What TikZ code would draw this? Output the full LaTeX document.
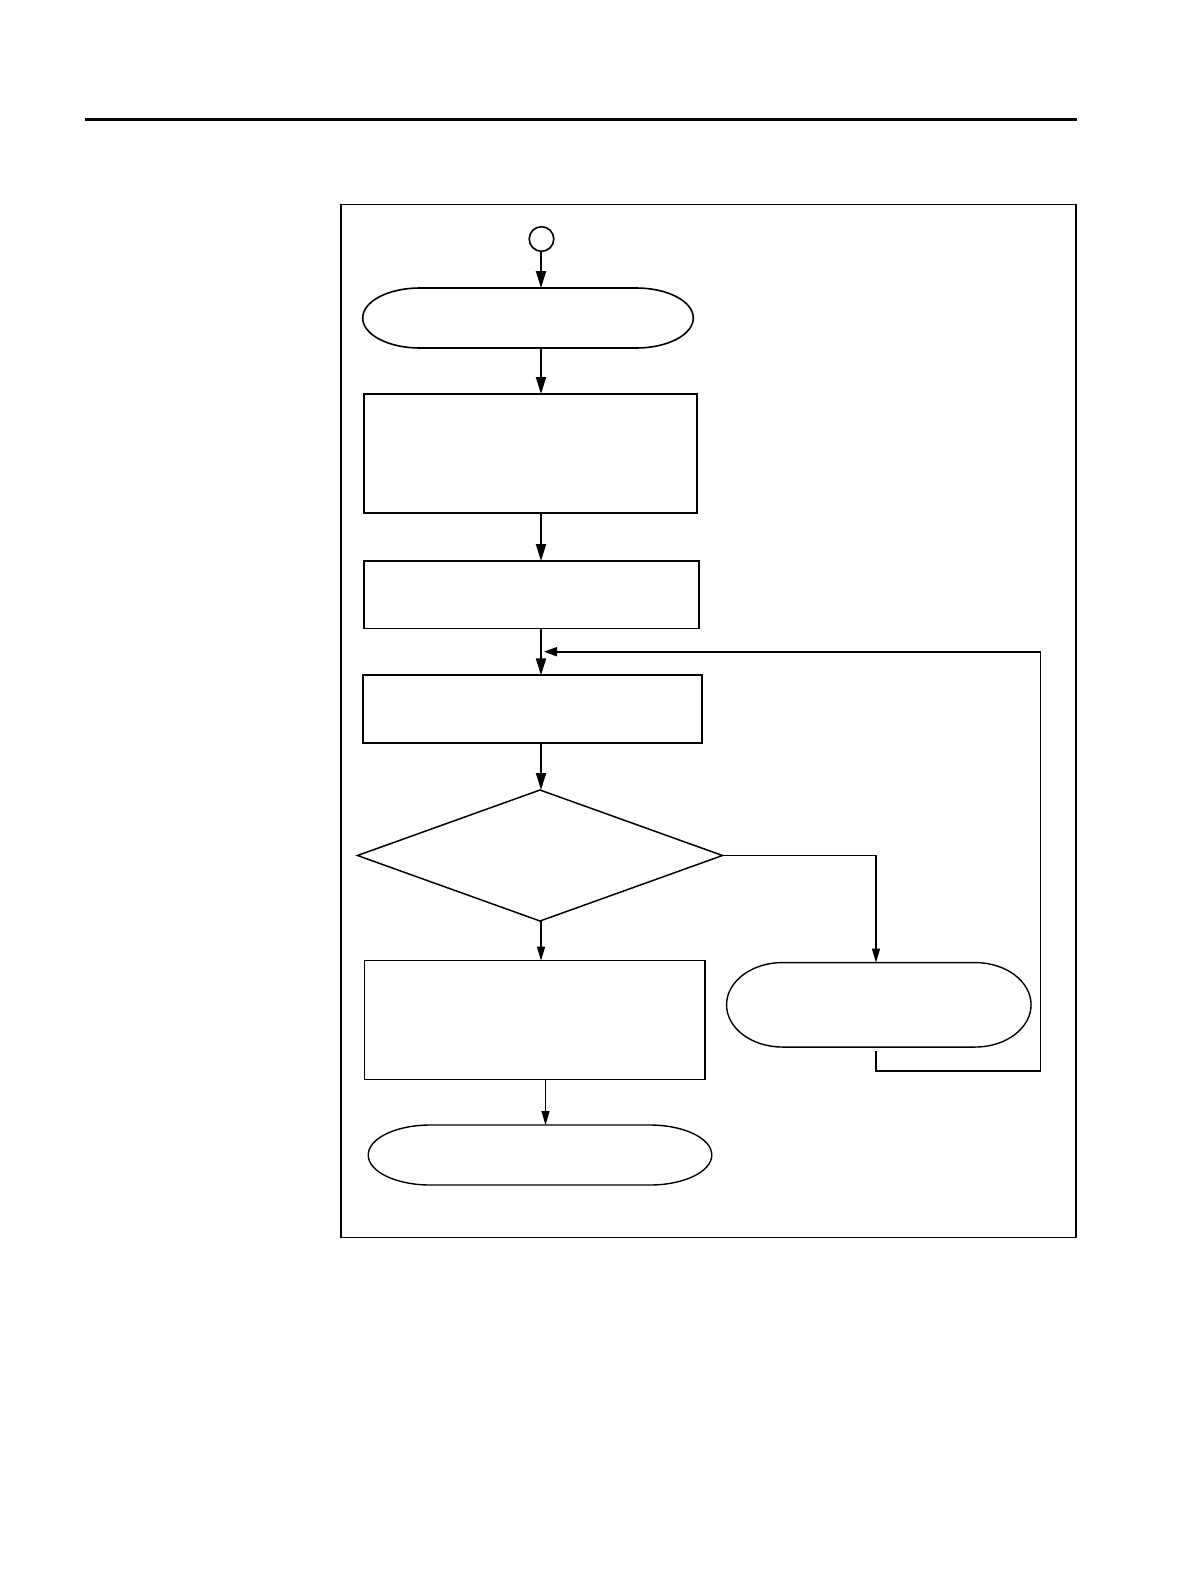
\documentclass[tikz,border=0pt]{standalone}
\usetikzlibrary{arrows.meta,shapes.geometric}
\begin{document}
\begin{tikzpicture}[x=1pt,y=-1pt,
  boxA/.style={draw,rectangle,inner sep=0pt,outer sep=0pt,line width=2pt},
  boxB/.style={draw,rectangle,inner sep=0pt,outer sep=0pt,line width=1.4pt},
  term/.style={rectangle,inner sep=0pt,outer sep=0pt},
  decis/.style={draw,diamond,inner sep=0pt,outer sep=0pt,line width=1.5pt},
  startc/.style={draw,circle,inner sep=0pt,outer sep=0pt,line width=1.6pt,minimum size=24.6pt},
  arrA/.style={line width=2pt,-{Triangle[length=17pt,width=10pt]}},
  arrB/.style={line width=1.3pt,-{Triangle[length=14pt,width=8pt]}},
  loopl/.style={line width=1.8pt,-{Triangle[length=13pt,width=9pt]}},
  plainl/.style={line width=1.3pt}]
\useasboundingbox[fill=white] (0,0) rectangle (1190,1584);
% top rule and frame
\coordinate (r1) at (85,119.5);
\coordinate (r2) at (1077,119.5);
\draw[line width=2.6pt] (r1) -- (r2);
\coordinate (f1) at (341,204.5);
\coordinate (f2) at (1076,1237.5);
\draw[line width=1.4pt] (f1) rectangle (f2);
% column coordinates
\coordinate (ax) at (541,0);
\coordinate (bx) at (545.5,0);
\coordinate (br) at (876,0);
\coordinate (lp) at (1040.5,1071);
\coordinate (jn) at (541,651.7);
% nodes
\node[startc] (c) at (541.5,239) {};
\node[term,minimum width=330.6pt,minimum height=60pt] (t1) at (528,318) {};
\node[boxA,minimum width=333pt,minimum height=119pt] (b1) at (530.5,453.5) {};
\node[boxA,line width=1.7pt,minimum width=335pt,minimum height=67.3pt] (b2) at (531.8,594.7) {};
\node[boxA,minimum width=339pt,minimum height=68pt] (b3) at (532.2,709.3) {};
\node[decis,minimum width=365pt,minimum height=131pt] (d) at (540,855.5) {};
\node[boxB,minimum width=340.7pt,minimum height=118.6pt] (b4) at (534.7,1020) {};
\node[term,minimum width=304.5pt,minimum height=84.5pt] (t2) at (878.8,1004.8) {};
\node[term,minimum width=343.6pt,minimum height=60pt] (t3) at (540,1155) {};
% terminal outlines
\draw[line width=1.6pt] ([xshift=57pt]t1.north west) -- ([xshift=-57pt]t1.north east)
  arc[start angle=90,end angle=-90,x radius=57pt,y radius=30pt]
  -- ([xshift=57pt]t1.south west)
  arc[start angle=270,end angle=90,x radius=57pt,y radius=30pt];
\draw[line width=1.4pt] ([xshift=56pt]t2.north west) -- ([xshift=-56pt]t2.north east)
  arc[start angle=90,end angle=-90,x radius=56pt,y radius=42.25pt]
  -- ([xshift=56pt]t2.south west)
  arc[start angle=270,end angle=90,x radius=56pt,y radius=42.25pt];
\draw[line width=1.4pt] ([xshift=62pt]t3.north west) -- ([xshift=-62pt]t3.north east)
  arc[start angle=90,end angle=-90,x radius=62pt,y radius=30pt]
  -- ([xshift=62pt]t3.south west)
  arc[start angle=270,end angle=90,x radius=62pt,y radius=30pt];
% connectors
\draw[arrA] (c.south -| ax) -- (t1.north -| ax);
\draw[arrA] (t1.south -| ax) -- (b1.north -| ax);
\draw[arrA] (b1.south -| ax) -- (b2.north -| ax);
\draw[arrA] (b2.south -| ax) -- (b3.north -| ax);
\draw[arrA] (b3.south -| ax) -- (d.north -| ax);
\draw[arrB] (d.south -| ax) -- (b4.north -| ax);
\draw[arrB] (b4.south -| bx) -- (t3.north -| bx);
\draw[arrB] (d.east) -| (t2.north -| br);
\draw[loopl,shorten >=3pt] ([yshift=-3.5pt]t2.south -| br) |- (lp) |- (jn);
\end{tikzpicture}
\end{document}
